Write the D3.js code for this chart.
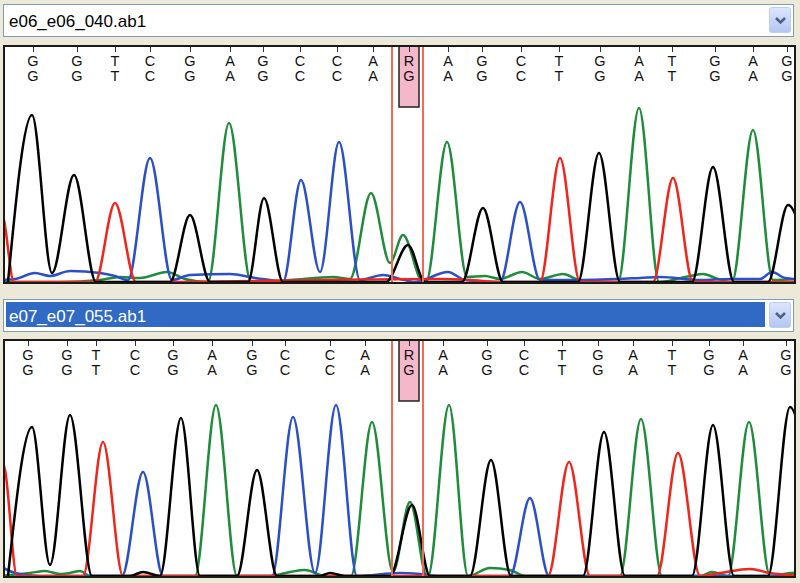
<!DOCTYPE html>
<html>
<head>
<meta charset="utf-8">
<script src="https://cdn.jsdelivr.net/npm/d3@7"></script>
<style>
body { margin: 0; background: #ece9d8; }
svg { display: block; }
</style>
</head>
<body>
<script>
var width = 800;
var height = 583;

// base calls (row 1 = consensus with the mixed call, row 2 = reference)
var callsMixed = ["G","G","T","C","G","A","G","C","C","A","R","A","G","C","T","G","A","T","G","A","G"];
var callsRef   = ["G","G","T","C","G","A","G","C","C","A","G","A","G","C","T","G","A","T","G","A","G"];
var mixedIndex = 10;

var topFile = "e06_e06_040.ab1";
var bottomFile = "e07_e07_055.ab1";

// scan position of every base call
var topCallPos    = [33, 77, 115, 150, 190, 230, 263, 300, 337, 373, 409, 448, 482, 521, 559, 600, 639, 672, 715, 753, 787];
var bottomCallPos = [28, 67, 96, 135, 173, 212, 252, 285, 330, 365, 409, 443, 487, 524, 562, 598, 633, 672, 709, 743, 786];

// highlighted column (scan range)
var markRange = [392, 423];

// trace points [scan, signal]
var topG = [[8,0],[32,167],[52,9],[74,107],[96,0],[170,0],[190,67],[210,0],[248,0],[264,84],[283,0],[386,0],[408,37],[425,0],[462,0],[483,74],[503,0],[578,0],[599,129],[620,0],[692,0],[713,115],[734,0],[768,0],[788,77],[812,0]];
var topT = [[-8,95],[4,62],[14,0],[95,0],[115,79],[136,0],[440,3],[470,2],[500,0],[540,0],[560,124],[580,0],[653,0],[673,104],[693,0],[810,0]];
var topC = [[0,2],[15,3],[35,9],[50,6],[70,11],[100,9],[115,6],[128,2],[150,124],[172,2],[190,7],[230,8],[255,4],[270,2],[283,0],[301,102],[320,10],[339,140],[360,2],[383,7],[400,3],[415,0],[448,10],[465,2],[500,0],[520,80],[540,2],[580,2],[640,4],[660,5],[700,2],[730,3],[760,3],[772,10],[785,4],[810,2]];
var topA = [[0,0],[60,0],[100,2],[120,5],[140,4],[167,10],[185,3],[208,0],[229,159],[251,0],[290,2],[333,5],[350,3],[371,89],[390,19],[403,47],[423,0],[426,0],[447,140],[467,5],[485,6],[500,3],[522,10],[540,3],[563,8],[580,2],[618,0],[639,174],[659,0],[690,6],[703,8],[718,3],[732,0],[753,152],[773,2],[810,4]];

var bottomG = [[8,0],[32,149],[50,11],[70,161],[92,0],[130,0],[143,4],[160,0],[181,158],[200,0],[237,0],[257,106],[277,0],[320,0],[330,3],[345,0],[390,0],[412,71],[430,0],[470,0],[491,116],[511,0],[583,0],[604,144],[625,0],[692,0],[713,151],[734,0],[768,0],[790,169],[812,60]];
var bottomT = [[-8,135],[5,106],[17,0],[83,0],[103,134],[123,0],[548,0],[569,114],[590,0],[657,0],[678,123],[700,0],[720,3],[750,7],[770,3],[810,0]];
var bottomC = [[0,10],[15,3],[40,0],[122,0],[143,104],[163,0],[272,0],[293,159],[315,3],[336,171],[357,0],[400,3],[420,2],[440,0],[510,0],[530,78],[549,0],[810,0]];
var bottomA = [[0,0],[30,3],[45,5],[60,2],[70,3],[80,5],[90,0],[195,0],[216,171],[237,0],[270,0],[290,4],[305,6],[325,0],[351,0],[372,154],[393,4],[410,74],[427,0],[428,0],[449,171],[468,0],[490,8],[510,6],[525,0],[620,0],[641,157],[662,0],[700,0],[712,4],[728,0],[749,154],[770,0],[790,3],[810,4]];

var baseColor = { A: "#1f8c3b", C: "#2b4fc9", G: "#000000", T: "#f0261c" };

var panels = [
  { file: topFile, selected: false, boxY: 4, top: 46, bottom: 283, callPos: topCallPos,
    traces: [["A", topA], ["C", topC], ["T", topT], ["G", topG]] },
  { file: bottomFile, selected: true, boxY: 299, top: 340, bottom: 577, callPos: bottomCallPos,
    traces: [["A", bottomA], ["C", bottomC], ["T", bottomT], ["G", bottomG]] }
];

var svg = d3.select("body").append("svg")
    .attr("width", width)
    .attr("height", height);

var defs = svg.append("defs");
var grad = defs.append("linearGradient").attr("id", "btn").attr("x1", 0).attr("y1", 0).attr("x2", 0).attr("y2", 1);
grad.append("stop").attr("offset", "0%").attr("stop-color", "#dce6fc");
grad.append("stop").attr("offset", "100%").attr("stop-color", "#b3c6f2");

var x = d3.scaleLinear().domain([4, 795]).range([4, 795]);

panels.forEach(function(p, i) {
  var g = svg.append("g");

  // file selector
  g.append("rect")
    .attr("x", 3.5).attr("y", p.boxY + 0.5)
    .attr("width", 790).attr("height", 32)
    .attr("fill", "#fff").attr("stroke", "#7f9db9");
  if (p.selected) {
    g.append("rect")
      .attr("x", 6).attr("y", p.boxY + 3)
      .attr("width", 759).attr("height", 25)
      .attr("fill", "#316ac5");
  }
  g.append("text")
    .attr("x", 9).attr("y", p.boxY + 23)
    .attr("font-family", "Liberation Sans, Arial, sans-serif")
    .attr("font-size", 17)
    .attr("fill", p.selected ? "#fff" : "#000")
    .text(p.file);
  g.append("rect")
    .attr("x", 769.5).attr("y", p.boxY + 3.5)
    .attr("width", 21).attr("height", 25).attr("rx", 2)
    .attr("fill", "url(#btn)").attr("stroke", "#bccdf3");
  g.append("path")
    .attr("d", "M776," + (p.boxY + 14) + " L780.5," + (p.boxY + 18.5) + " L785," + (p.boxY + 14))
    .attr("fill", "none").attr("stroke", "#4d6185").attr("stroke-width", 2.6);

  // trace area
  g.append("rect")
    .attr("x", 4).attr("y", p.top)
    .attr("width", 791).attr("height", p.bottom - p.top)
    .attr("fill", "#fff");

  defs.append("clipPath").attr("id", "clip" + i)
    .append("rect")
    .attr("x", 5).attr("y", p.top + 1)
    .attr("width", 789).attr("height", p.bottom - p.top - 2);

  var y = d3.scaleLinear().domain([0, 236]).range([p.bottom - 1, p.bottom - 237]);

  var line = d3.line()
    .x(function(d) { return x(d[0]); })
    .y(function(d) { return y(d[1]); })
    .curve(d3.curveMonotoneX);

  var inner = g.append("g").attr("clip-path", "url(#clip" + i + ")");

  inner.selectAll(".trace")
    .data(p.traces)
    .enter().append("path")
    .attr("class", "trace")
    .attr("d", function(d) { return line(d[1]); })
    .attr("fill", "none")
    .attr("stroke", function(d) { return baseColor[d[0]]; })
    .attr("stroke-width", 2.5)
    .attr("stroke-linejoin", "round");

  // highlighted column
  inner.selectAll(".mark")
    .data(markRange)
    .enter().append("line")
    .attr("x1", function(d) { return x(d); })
    .attr("x2", function(d) { return x(d); })
    .attr("y1", p.top).attr("y2", p.bottom)
    .attr("stroke", "#f26b55").attr("stroke-width", 2);

  var mx = x(p.callPos[mixedIndex]);
  inner.append("rect")
    .attr("x", mx - 10).attr("y", p.top - 2)
    .attr("width", 20).attr("height", 63)
    .attr("fill", "#f5b8cb").attr("stroke", "#222").attr("stroke-width", 1.5);

  // ticks and base calls
  inner.selectAll(".tick")
    .data(p.callPos)
    .enter().append("line")
    .attr("x1", function(d) { return x(d) + 0.5; })
    .attr("x2", function(d) { return x(d) + 0.5; })
    .attr("y1", p.top).attr("y2", p.top + 6)
    .attr("stroke", "#333");

  [callsMixed, callsRef].forEach(function(calls, r) {
    inner.selectAll(".call" + r)
      .data(calls)
      .enter().append("text")
      .attr("x", function(d, k) { return x(p.callPos[k]); })
      .attr("y", p.top + 20 + r * 14.5)
      .attr("text-anchor", "middle")
      .attr("font-family", "Liberation Sans, Arial, sans-serif")
      .attr("font-size", 14.5)
      .attr("fill", "#111")
      .text(function(d) { return d; });
  });

  g.append("rect")
    .attr("x", 4).attr("y", p.top)
    .attr("width", 791).attr("height", p.bottom - p.top)
    .attr("fill", "none").attr("stroke", "#1a1a1a").attr("stroke-width", 2);
});
</script>
</body>
</html>
